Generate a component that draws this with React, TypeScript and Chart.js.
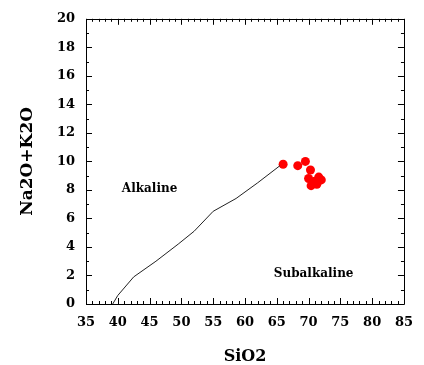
import React, { useEffect, useRef } from "react";
import { Chart, registerables } from "chart.js";

Chart.register(...registerables);

// Alkaline / subalkaline boundary (SiO2, Na2O+K2O)
const boundarySiO2 = [39.2, 40, 42.5, 46, 49.5, 52, 55, 58.6, 62, 65.5];
const boundaryAlk = [0, 0.6, 1.9, 3.0, 4.2, 5.1, 6.5, 7.4, 8.5, 9.7];

// Samples
const sampleSiO2 = [66.0, 68.3, 69.5, 70.3, 70.0, 71.0, 71.6, 70.4, 71.3, 72.0];
const sampleAlk = [9.8, 9.7, 10.0, 9.4, 8.8, 8.6, 8.9, 8.3, 8.4, 8.7];

// Field names
const regionNames = ["Alkaline", "Subalkaline"];
const regionSiO2 = [45, 70.8];
const regionAlk = [8.1, 2.1];

// Axis ticks
const xTickValues = [35, 40, 45, 50, 55, 60, 65, 70, 75, 80, 85];
const yTickValues = [0, 2, 4, 6, 8, 10, 12, 14, 16, 18, 20];

const xTitle = "SiO2";
const yTitle = "Na2O+K2O";

const framePlugin = {
  id: "frameTicks",
  beforeDatasetsDraw(chart: any) {
    const { ctx, chartArea, scales } = chart;
    const { left, right, top, bottom } = chartArea;
    const xs = scales.x;
    const ys = scales.y;
    ctx.save();
    ctx.strokeStyle = "#000";
    ctx.lineWidth = 1;
    ctx.beginPath();
    ctx.rect(Math.round(left) + 0.5, Math.round(top) + 0.5, Math.round(right - left), Math.round(bottom - top));
    ctx.stroke();
    ctx.beginPath();
    for (let v = xs.min; v <= xs.max; v += 1) {
      const px = Math.round(xs.getPixelForValue(v)) + 0.5;
      const len = v % 5 === 0 ? 6 : 3;
      ctx.moveTo(px, bottom);
      ctx.lineTo(px, bottom - len);
      ctx.moveTo(px, top);
      ctx.lineTo(px, top + len);
    }
    for (let v = ys.min; v <= ys.max; v += 1) {
      const py = Math.round(ys.getPixelForValue(v)) + 0.5;
      const len = v % 2 === 0 ? 6 : 3;
      ctx.moveTo(left, py);
      ctx.lineTo(left + len, py);
      ctx.moveTo(right, py);
      ctx.lineTo(right - len, py);
    }
    ctx.stroke();
    ctx.restore();
  },
  afterDatasetsDraw(chart: any) {
    const { ctx, scales } = chart;
    ctx.save();
    ctx.fillStyle = "#000";
    ctx.font = "bold 12px 'DejaVu Serif'";
    ctx.textAlign = "center";
    ctx.textBaseline = "middle";
    regionNames.forEach((name, i) => {
      ctx.fillText(name, scales.x.getPixelForValue(regionSiO2[i]), scales.y.getPixelForValue(regionAlk[i]));
    });
    ctx.restore();
  },
};

export default function App() {
  const ref = useRef<HTMLCanvasElement>(null);
  useEffect(() => {
    if (!ref.current) return;
    const tickFont = { family: "'DejaVu Serif'", size: 13, weight: "bold" as const };
    const chart = new Chart(ref.current, {
      type: "scatter",
      data: {
        datasets: [
          {
            data: boundarySiO2.map((x, i) => ({ x, y: boundaryAlk[i] })),
            showLine: true,
            borderColor: "#222",
            borderWidth: 1,
            pointRadius: 0,
            fill: false,
          },
          {
            data: sampleSiO2.map((x, i) => ({ x, y: sampleAlk[i] })),
            pointRadius: 4.5,
            pointStyle: "circle",
            backgroundColor: "#ff0000",
            borderColor: "#ff0000",
            borderWidth: 0,
          },
        ],
      },
      options: {
        responsive: false,
        animation: false,
        layout: { padding: { left: 0, right: 12, top: 15, bottom: 0 } },
        plugins: { legend: { display: false }, tooltip: { enabled: false } },
        scales: {
          x: {
            type: "linear",
            min: 35,
            max: 85,
            afterBuildTicks: (s: any) => {
              s.ticks = xTickValues.map((value) => ({ value }));
            },
            afterFit: (s: any) => {
              s.height = 61;
            },
            grid: { display: false, drawTicks: false },
            border: { display: false },
            ticks: { color: "#000", font: tickFont, padding: 11, maxRotation: 0, autoSkip: false },
            title: {
              display: true,
              text: xTitle,
              color: "#000",
              font: { family: "'DejaVu Serif'", size: 16, weight: "bold", lineHeight: 1 },
              padding: { top: 0, bottom: 0 },
            },
          },
          y: {
            type: "linear",
            min: 0,
            max: 20,
            afterBuildTicks: (s: any) => {
              s.ticks = yTickValues.map((value) => ({ value }));
            },
            afterFit: (s: any) => {
              s.width = 86;
            },
            grid: { display: false, drawTicks: false },
            border: { display: false },
            ticks: { color: "#000", font: tickFont, padding: 11, autoSkip: false },
            title: {
              display: true,
              text: yTitle,
              color: "#000",
              font: { family: "'DejaVu Serif'", size: 17, weight: "bold", lineHeight: 1.2 },
              padding: { top: 17, bottom: 0 },
            },
          },
        },
      },
      plugins: [framePlugin],
    });
    return () => chart.destroy();
  }, []);
  return (
    <div style={{ position: "absolute", left: 0, top: 0, width: 424, height: 365, background: "#fff" }}>
      <canvas ref={ref} width={424} height={365} style={{ display: "block" }} />
    </div>
  );
}
